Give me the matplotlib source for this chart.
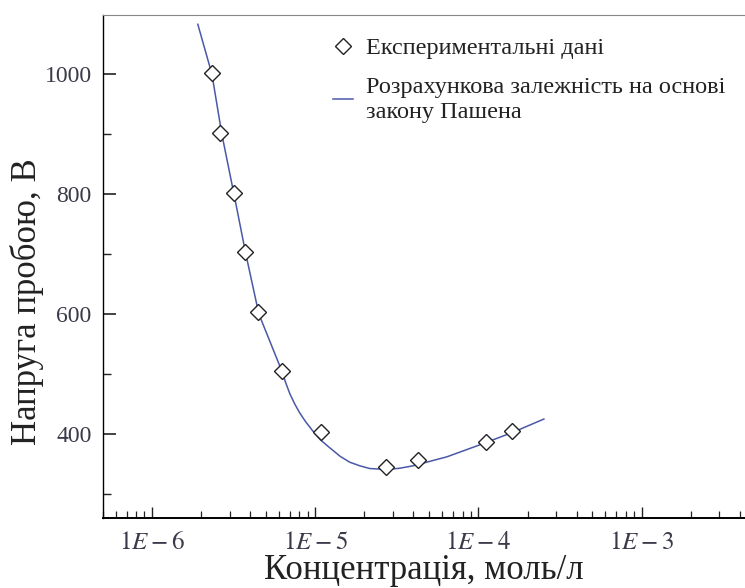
import matplotlib
matplotlib.use("Agg")
import matplotlib.pyplot as plt
from matplotlib.ticker import FixedLocator, LogLocator, NullFormatter

plt.rcParams["font.family"] = ["Liberation Serif", "DejaVu Serif"]
plt.rcParams["mathtext.fontset"] = "stix"

# experimental points
conc_exp = [2.32e-6, 2.63e-6, 3.18e-6, 3.71e-6, 4.46e-6, 6.25e-6,
            1.09e-5, 2.73e-5, 4.24e-5, 1.11e-4, 1.60e-4]
volt_exp = [1002, 902, 802, 703, 603, 505, 404, 345, 357, 387, 405]

# calculated Paschen curve
conc_calc = [1.91e-6, 2.33e-6, 2.68e-6, 3.18e-6, 3.76e-6, 4.52e-6, 5.27e-6,
             6.25e-6, 6.61e-6, 7.00e-6, 7.50e-6, 8.05e-6, 8.77e-6, 9.68e-6,
             1.08e-5, 1.23e-5, 1.42e-5, 1.63e-5, 1.88e-5, 2.16e-5, 2.75e-5,
             3.30e-5, 3.97e-5, 6.41e-5, 1.02e-4, 1.63e-4, 2.52e-4]
volt_calc = [1083, 1000, 900, 800, 700, 600, 555, 505, 485, 467, 450, 435,
             420, 405, 390, 377, 363, 353, 347, 342.5, 341, 343, 347, 362,
             382, 403, 425]

x_ticks = [1e-6, 1e-5, 1e-4, 1e-3]
x_labels = [r"$1E-6$", r"$1E-5$", r"$1E-4$", r"$1E-3$"]
y_ticks = [400, 600, 800, 1000]
y_minor = [300, 500, 700, 900]

fig = plt.figure(figsize=(7.45, 5.88), dpi=100)
ax = fig.add_axes([0.138, 0.119, 0.862, 0.855])

ax.plot(conc_calc, volt_calc, color="#4a58a8", lw=1.1,
        label="Розрахункова залежність на основі\nзакону Пашена")
ax.plot(conc_exp, volt_exp, ls="none", marker="D", ms=8.5, mfc="white",
        mec="#222222", mew=1.0, label="Експериментальні дані")

ax.set_xscale("log")
ax.set_xlim(5e-7, 4.3e-3)
ax.set_ylim(260, 1098)

ax.xaxis.set_major_locator(FixedLocator(x_ticks))
ax.set_xticklabels(x_labels)
ax.xaxis.set_minor_locator(LogLocator(base=10, subs=range(2, 10), numticks=20))
ax.xaxis.set_minor_formatter(NullFormatter())
ax.yaxis.set_major_locator(FixedLocator(y_ticks))
ax.yaxis.set_minor_locator(FixedLocator(y_minor))

ax.tick_params(which="both", direction="in", top=False, right=False,
               colors="#222222", labelcolor="#3a3a4a")
ax.tick_params(axis="y", which="major", length=9, width=1.2, pad=8, labelsize=17)
ax.tick_params(axis="y", which="minor", length=6, width=1.0)
ax.tick_params(axis="x", which="major", length=8, width=1.0, pad=10, labelsize=18)
ax.tick_params(axis="x", which="minor", length=5, width=0.9)

ax.spines["right"].set_visible(False)
ax.spines["top"].set_color("#888888")
ax.spines["left"].set_linewidth(1.0)
ax.spines["bottom"].set_linewidth(1.4)

ax.set_xlabel("Концентрація, моль/л", fontsize=25, color="#222222", labelpad=0)
ax.set_ylabel("Напруга пробою, В", fontsize=25, color="#222222")
ax.yaxis.set_label_coords(-0.092, 0.43)

handles, labels = ax.get_legend_handles_labels()
ax.legend(handles[::-1], labels[::-1], loc="upper left",
          bbox_to_anchor=(0.324, 1.0), frameon=False, fontsize=17.5,
          handlelength=0.85, handletextpad=0.5, labelspacing=0.75,
          labelcolor="#222222")

fig.savefig("out.png", dpi=100)
